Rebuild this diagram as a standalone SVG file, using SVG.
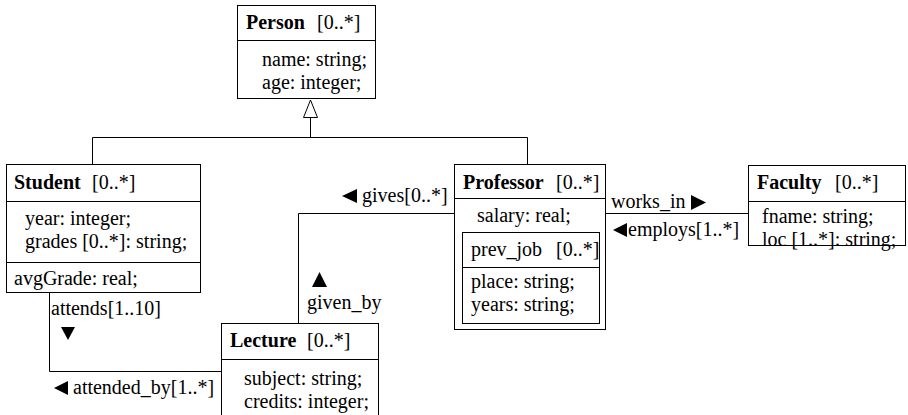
<svg xmlns="http://www.w3.org/2000/svg" width="908" height="415" viewBox="0 0 908 415" font-family="'Liberation Serif', 'Times New Roman', serif">
  <style>
    text { font-family: "Liberation Serif", "Times New Roman", serif; font-size: 20px; fill: #000; }
    .b { font-weight: bold; }
    .box { fill: #fff; stroke: #000; stroke-width: 1; }
    .ln { fill: none; stroke: #000; stroke-width: 1; }
    .tri { fill: #000; stroke: none; }
  </style>
  <rect width="908" height="415" fill="#fff"/>

  <!-- connectors -->
  <g id="connectors">
    <!-- generalization -->
    <polyline class="ln" points="92.5,164 92.5,137.5 527.5,137.5 527.5,164"/>
    <line class="ln" x1="310.5" y1="117" x2="310.5" y2="137.5"/>
    <polygon points="310.5,100 303.5,117.5 317.5,117.5" fill="#fff" stroke="#000"/>
    <!-- Student attends Lecture -->
    <polyline class="ln" points="49.5,293 49.5,371.5 221,371.5"/>
    <text x="51" y="315">attends[1..10]</text>
    <polygon class="tri" points="61,327 75,327 68,340"/>
    <polygon class="tri" points="54,388 68,381 68,395"/>
    <text x="73" y="394">attended_by[1..*]</text>
    <!-- Professor gives Lecture -->
    <polyline class="ln" points="454,213.5 298.5,213.5 298.5,323"/>
    <polygon class="tri" points="342,196 357,189 357,203"/>
    <text x="362" y="202">gives[0..*]</text>
    <polygon class="tri" points="312,287 327,287 319.5,272"/>
    <text x="307" y="309">given_by</text>
    <!-- Professor works_in Faculty -->
    <line class="ln" x1="606" y1="213.5" x2="748" y2="213.5"/>
    <text x="611" y="208">works_in</text>
    <polygon class="tri" points="691,195 706,202.5 691,210"/>
    <polygon class="tri" points="613,230 627,223 627,237"/>
    <text x="628" y="236">employs[1..*]</text>
  </g>

  <!-- Person -->
  <g id="person">
    <rect class="box" x="237.5" y="5.5" width="138" height="93"/>
    <line class="ln" x1="237.5" y1="40.5" x2="375.5" y2="40.5"/>
    <text class="b" x="246" y="29">Person</text>
    <text x="317" y="29">[0..*]</text>
    <text x="262" y="66">name: string;</text>
    <text x="262" y="89">age: integer;</text>
  </g>

  <!-- Student -->
  <g id="student">
    <rect class="box" x="6.5" y="164.5" width="194" height="128"/>
    <line class="ln" x1="6.5" y1="201.5" x2="200.5" y2="201.5"/>
    <line class="ln" x1="6.5" y1="262.5" x2="200.5" y2="262.5"/>
    <text class="b" x="14" y="189">Student</text>
    <text x="92" y="189">[0..*]</text>
    <text x="25" y="225">year: integer;</text>
    <text x="25" y="248">grades [0..*]: string;</text>
    <text x="14" y="285">avgGrade: real;</text>
  </g>

  <!-- Professor -->
  <g id="professor">
    <rect class="box" x="454.5" y="164.5" width="151" height="165"/>
    <line class="ln" x1="454.5" y1="198.5" x2="605.5" y2="198.5"/>
    <text class="b" x="463" y="189">Professor</text>
    <text x="556" y="189">[0..*]</text>
    <text x="477" y="222">salary: real;</text>
    <g id="prev_job">
      <rect class="box" x="462.5" y="232.5" width="137" height="91"/>
      <line class="ln" x1="462.5" y1="267.5" x2="599.5" y2="267.5"/>
      <text x="471" y="256">prev_job</text>
      <text x="556" y="256">[0..*]</text>
      <text x="471" y="288">place: string;</text>
      <text x="471" y="311">years: string;</text>
    </g>
  </g>

  <!-- Faculty -->
  <g id="faculty">
    <rect class="box" x="748.5" y="165.5" width="157" height="80"/>
    <line class="ln" x1="748.5" y1="201.5" x2="905.5" y2="201.5"/>
    <text class="b" x="757" y="189">Faculty</text>
    <text x="835" y="189">[0..*]</text>
    <text x="762" y="223">fname: string;</text>
    <text x="762" y="246">loc [1..*]: string;</text>
  </g>

  <!-- Lecture -->
  <g id="lecture">
    <rect class="box" x="221.5" y="323.5" width="157" height="100"/>
    <line class="ln" x1="221.5" y1="359.5" x2="378.5" y2="359.5"/>
    <text class="b" x="230" y="347">Lecture</text>
    <text x="307" y="347">[0..*]</text>
    <text x="244" y="385">subject: string;</text>
    <text x="244" y="408">credits: integer;</text>
  </g>
</svg>
